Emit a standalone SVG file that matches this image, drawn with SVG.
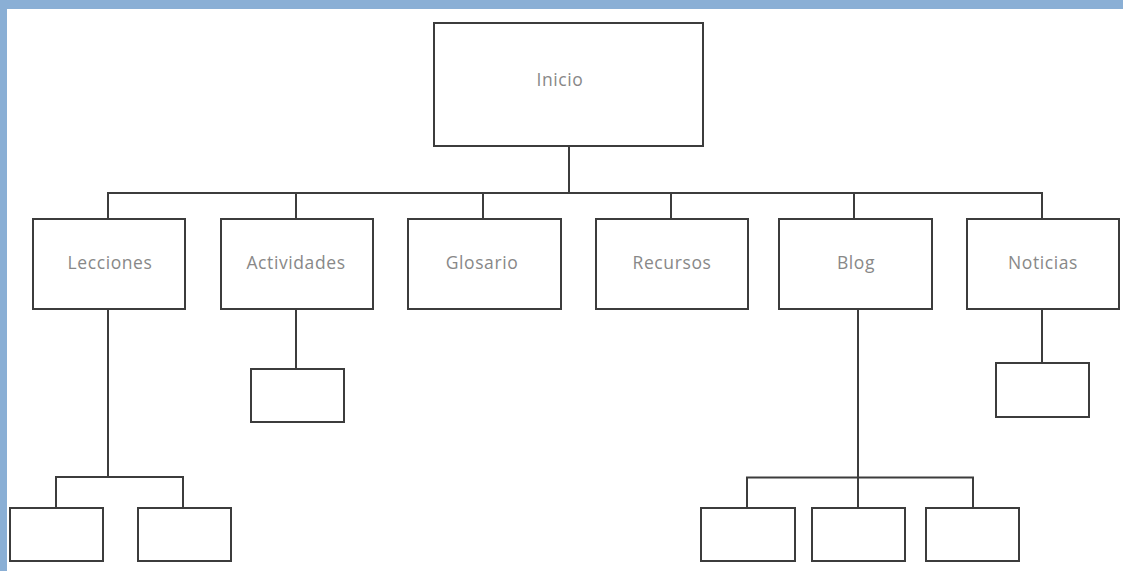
<svg xmlns="http://www.w3.org/2000/svg" width="1123" height="571" viewBox="0 0 1123 571">
  <style>
    .box { fill: #ffffff; stroke: #3c3c3c; stroke-width: 2; }
    .link { fill: none; stroke: #3c3c3c; stroke-width: 2; stroke-linejoin: miter; }
    .label { font-family: "Open Sans", "Liberation Sans", sans-serif; font-size: 17.5px; fill: #888888; text-anchor: middle; letter-spacing: 0.6px; }
  </style>

  <!-- page background and frame -->
  <rect x="0" y="0" width="1123" height="571" fill="#ffffff"/>
  <rect x="0" y="0" width="1123" height="9" fill="#8aafd5"/>
  <rect x="0" y="0" width="7" height="571" fill="#8aafd5"/>

  <!-- connectors -->
  <g id="connectors">
    <path class="link" d="M569 146 V193"/>
    <path class="link" d="M108 219 V193 H1042 V219"/>
    <path class="link" d="M296 193 V219"/>
    <path class="link" d="M483 193 V219"/>
    <path class="link" d="M671 193 V219"/>
    <path class="link" d="M854 193 V219"/>
    <!-- Lecciones subtree -->
    <path class="link" d="M108 309 V477"/>
    <path class="link" d="M56 508 V477 H183 V508"/>
    <!-- Actividades subtree -->
    <path class="link" d="M296 309 V369"/>
    <!-- Blog subtree -->
    <path class="link" d="M858 309 V508"/>
    <path class="link" d="M747 508 V477.5 H973 V508"/>
    <!-- Noticias subtree -->
    <path class="link" d="M1042 309 V363"/>
  </g>

  <g id="inicio">
    <rect class="box" x="434" y="23" width="269" height="123"/>
    <text class="label" x="560" y="85.5">Inicio</text>
  </g>

  <g id="lecciones">
    <rect class="box" x="33" y="219" width="152" height="90"/>
    <text class="label" x="110" y="268.5">Lecciones</text>
  </g>
  <g id="actividades">
    <rect class="box" x="221" y="219" width="152" height="90"/>
    <text class="label" x="296" y="268.5">Actividades</text>
  </g>
  <g id="glosario">
    <rect class="box" x="408" y="219" width="153" height="90"/>
    <text class="label" x="482" y="268.5">Glosario</text>
  </g>
  <g id="recursos">
    <rect class="box" x="596" y="219" width="152" height="90"/>
    <text class="label" x="672" y="268.5">Recursos</text>
  </g>
  <g id="blog">
    <rect class="box" x="779" y="219" width="153" height="90"/>
    <text class="label" x="856" y="268.5">Blog</text>
  </g>
  <g id="noticias">
    <rect class="box" x="967" y="219" width="152" height="90"/>
    <text class="label" x="1043" y="268.5">Noticias</text>
  </g>

  <!-- unlabelled child pages -->
  <g id="lecciones-1"><rect class="box" x="10" y="508" width="93" height="53"/></g>
  <g id="lecciones-2"><rect class="box" x="138" y="508" width="93" height="53"/></g>
  <g id="actividades-1"><rect class="box" x="251" y="369" width="93" height="53"/></g>
  <g id="noticias-1"><rect class="box" x="996" y="363" width="93" height="54"/></g>
  <g id="blog-1"><rect class="box" x="701" y="508" width="94" height="53"/></g>
  <g id="blog-2"><rect class="box" x="812" y="508" width="93" height="53"/></g>
  <g id="blog-3"><rect class="box" x="926" y="508" width="93" height="53"/></g>
</svg>
